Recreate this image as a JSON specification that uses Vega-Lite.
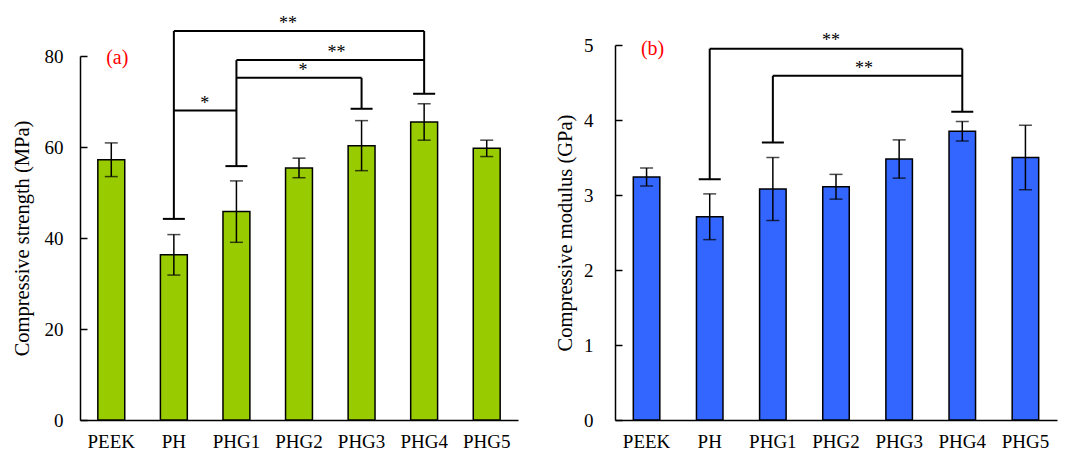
{
  "$schema": "https://vega.github.io/schema/vega-lite/v6.json",
  "padding": {"left": 12, "top": 14, "right": 10, "bottom": 5},
  "bounds": "flush",
  "spacing": 97,
  "datasets": {
    "strength": [
      {"g": "PEEK", "m": 57.2, "sd": 3.7},
      {"g": "PH", "m": 36.3, "sd": 4.45},
      {"g": "PHG1", "m": 45.8, "sd": 6.75},
      {"g": "PHG2", "m": 55.4, "sd": 2.15},
      {"g": "PHG3", "m": 60.3, "sd": 5.5},
      {"g": "PHG4", "m": 65.5, "sd": 4.0},
      {"g": "PHG5", "m": 59.7, "sd": 1.8}
    ],
    "modulus": [
      {"g": "PEEK", "m": 3.24, "sd": 0.12},
      {"g": "PH", "m": 2.71, "sd": 0.305},
      {"g": "PHG1", "m": 3.08, "sd": 0.42},
      {"g": "PHG2", "m": 3.11, "sd": 0.165},
      {"g": "PHG3", "m": 3.48, "sd": 0.255},
      {"g": "PHG4", "m": 3.85, "sd": 0.13},
      {"g": "PHG5", "m": 3.5, "sd": 0.43}
    ],
    "segA": [
      {"a": "PH", "b": "PHG4", "y1": 85.5, "y2": 85.5},
      {"a": "PHG1", "b": "PHG4", "y1": 79.1, "y2": 79.1},
      {"a": "PHG1", "b": "PHG3", "y1": 75.2, "y2": 75.2},
      {"a": "PH", "b": "PHG1", "y1": 68.0, "y2": 68.0},
      {"a": "PH", "b": "PH", "y1": 85.5, "y2": 44.2},
      {"a": "PHG1", "b": "PHG1", "y1": 79.1, "y2": 55.8},
      {"a": "PHG3", "b": "PHG3", "y1": 75.2, "y2": 68.4},
      {"a": "PHG4", "b": "PHG4", "y1": 85.5, "y2": 71.7}
    ],
    "capA": [
      {"g": "PH", "v": 44.2},
      {"g": "PHG1", "v": 55.8},
      {"g": "PHG3", "v": 68.4},
      {"g": "PHG4", "v": 71.7}
    ],
    "txtA": [
      {"id": "A", "g": "PHG2", "v": 85.5, "t": "**"},
      {"id": "B", "g": "PHG3", "v": 79.1, "t": "**"},
      {"id": "C", "g": "PHG2", "v": 75.2, "t": "*"},
      {"id": "D", "g": "PH", "v": 68.0, "t": "*"},
      {"id": "L", "g": "PEEK", "v": 80, "t": "(a)"}
    ],
    "segB": [
      {"a": "PH", "b": "PHG4", "y1": 4.95, "y2": 4.95},
      {"a": "PHG1", "b": "PHG4", "y1": 4.59, "y2": 4.59},
      {"a": "PH", "b": "PH", "y1": 4.95, "y2": 3.21},
      {"a": "PHG1", "b": "PHG1", "y1": 4.59, "y2": 3.7},
      {"a": "PHG4", "b": "PHG4", "y1": 4.95, "y2": 4.11}
    ],
    "capB": [
      {"g": "PH", "v": 3.21},
      {"g": "PHG1", "v": 3.7},
      {"g": "PHG4", "v": 4.11}
    ],
    "txtB": [
      {"id": "A", "g": "PHG2", "v": 4.95, "t": "**"},
      {"id": "B", "g": "PHG2", "v": 4.59, "t": "**"},
      {"id": "L", "g": "PEEK", "v": 5, "t": "(b)"}
    ]
  },
  "hconcat": [
    {
      "width": 438,
      "height": 375,
      "layer": [
        {
          "data": {"name": "strength"},
          "mark": {"type": "bar", "fill": "#99CC00", "stroke": "black", "strokeWidth": 1.5},
          "encoding": {
            "x": {"field": "g", "type": "nominal", "title": null,
                  "scale": {"domain": ["PEEK", "PH", "PHG1", "PHG2", "PHG3", "PHG4", "PHG5"], "paddingInner": 0.57, "paddingOuter": 0.285}},
            "y": {"field": "m", "type": "quantitative", "title": "Compressive strength (MPa)",
                  "scale": {"domain": [0, 80], "range": [375, 11], "nice": false},
                  "axis": {"values": [0, 20, 40, 60, 80], "format": "d", "labelPadding": 24, "titlePadding": 12}}
          }
        },
        {
          "data": {"name": "strength"},
          "mark": {"type": "errorbar", "color": "black", "ticks": {"size": 13, "thickness": 1.5, "color": "black"}, "rule": {"strokeWidth": 1.5, "color": "black"}},
          "encoding": {
            "x": {"field": "g", "type": "nominal", "title": null},
            "y": {"field": "m", "type": "quantitative", "title": "Compressive strength (MPa)"},
            "yError": {"field": "sd"}
          }
        },
        {
          "data": {"name": "segA"},
          "mark": {"type": "rule", "strokeWidth": 2, "color": "black", "clip": false},
          "encoding": {
            "x": {"field": "a", "type": "nominal", "title": null},
            "x2": {"field": "b"},
            "y": {"field": "y1", "type": "quantitative", "title": "Compressive strength (MPa)"},
            "y2": {"field": "y2"}
          }
        },
        {
          "data": {"name": "capA"},
          "mark": {"type": "tick", "size": 22, "thickness": 2, "color": "black", "opacity": 1, "clip": false},
          "encoding": {
            "x": {"field": "g", "type": "nominal", "title": null},
            "y": {"field": "v", "type": "quantitative", "title": "Compressive strength (MPa)"}
          }
        },
        {
          "data": {"name": "txtA"},
          "transform": [{"filter": "datum.id === 'A'"}],
          "mark": {"type": "text", "dx": -11, "dy": -2, "baseline": "alphabetic", "font": "Liberation Serif, Times New Roman, serif", "fontSize": 18, "color": "black"},
          "encoding": {
            "x": {"field": "g", "type": "nominal", "title": null},
            "y": {"field": "v", "type": "quantitative", "title": "Compressive strength (MPa)"},
            "text": {"field": "t"}
          }
        },
        {
          "data": {"name": "txtA"},
          "transform": [{"filter": "datum.id === 'B'"}],
          "mark": {"type": "text", "dx": -25, "dy": -2, "baseline": "alphabetic", "font": "Liberation Serif, Times New Roman, serif", "fontSize": 18, "color": "black"},
          "encoding": {
            "x": {"field": "g", "type": "nominal", "title": null},
            "y": {"field": "v", "type": "quantitative", "title": "Compressive strength (MPa)"},
            "text": {"field": "t"}
          }
        },
        {
          "data": {"name": "txtA"},
          "transform": [{"filter": "datum.id === 'C'"}],
          "mark": {"type": "text", "dx": 4, "dy": -2, "baseline": "alphabetic", "font": "Liberation Serif, Times New Roman, serif", "fontSize": 18, "color": "black"},
          "encoding": {
            "x": {"field": "g", "type": "nominal", "title": null},
            "y": {"field": "v", "type": "quantitative", "title": "Compressive strength (MPa)"},
            "text": {"field": "t"}
          }
        },
        {
          "data": {"name": "txtA"},
          "transform": [{"filter": "datum.id === 'D'"}],
          "mark": {"type": "text", "dx": 31, "dy": -2, "baseline": "alphabetic", "font": "Liberation Serif, Times New Roman, serif", "fontSize": 18, "color": "black"},
          "encoding": {
            "x": {"field": "g", "type": "nominal", "title": null},
            "y": {"field": "v", "type": "quantitative", "title": "Compressive strength (MPa)"},
            "text": {"field": "t"}
          }
        },
        {
          "data": {"name": "txtA"},
          "transform": [{"filter": "datum.id === 'L'"}],
          "mark": {"type": "text", "dx": 6, "dy": 2, "baseline": "middle", "font": "Liberation Serif, Times New Roman, serif", "fontSize": 20, "color": "#FF0000"},
          "encoding": {
            "x": {"field": "g", "type": "nominal", "title": null},
            "y": {"field": "v", "type": "quantitative", "title": "Compressive strength (MPa)"},
            "text": {"field": "t"}
          }
        }
      ]
    },
    {
      "width": 442,
      "height": 375,
      "layer": [
        {
          "data": {"name": "modulus"},
          "mark": {"type": "bar", "fill": "#3366FF", "stroke": "black", "strokeWidth": 1.5},
          "encoding": {
            "x": {"field": "g", "type": "nominal", "title": null,
                  "scale": {"domain": ["PEEK", "PH", "PHG1", "PHG2", "PHG3", "PHG4", "PHG5"], "paddingInner": 0.58, "paddingOuter": 0.29}},
            "y": {"field": "m", "type": "quantitative", "title": "Compressive modulus (GPa)",
                  "scale": {"domain": [0, 5], "nice": false},
                  "axis": {"values": [0, 1, 2, 3, 4, 5], "format": "d", "labelPadding": 29, "titlePadding": 8}}
          }
        },
        {
          "data": {"name": "modulus"},
          "mark": {"type": "errorbar", "color": "black", "ticks": {"size": 13, "thickness": 1.5, "color": "black"}, "rule": {"strokeWidth": 1.5, "color": "black"}},
          "encoding": {
            "x": {"field": "g", "type": "nominal", "title": null},
            "y": {"field": "m", "type": "quantitative", "title": "Compressive modulus (GPa)"},
            "yError": {"field": "sd"}
          }
        },
        {
          "data": {"name": "segB"},
          "mark": {"type": "rule", "strokeWidth": 2, "color": "black", "clip": false},
          "encoding": {
            "x": {"field": "a", "type": "nominal", "title": null},
            "x2": {"field": "b"},
            "y": {"field": "y1", "type": "quantitative", "title": "Compressive modulus (GPa)"},
            "y2": {"field": "y2"}
          }
        },
        {
          "data": {"name": "capB"},
          "mark": {"type": "tick", "size": 22, "thickness": 2, "color": "black", "opacity": 1, "clip": false},
          "encoding": {
            "x": {"field": "g", "type": "nominal", "title": null},
            "y": {"field": "v", "type": "quantitative", "title": "Compressive modulus (GPa)"}
          }
        },
        {
          "data": {"name": "txtB"},
          "transform": [{"filter": "datum.id === 'A'"}],
          "mark": {"type": "text", "dx": -5, "dy": -3, "baseline": "alphabetic", "font": "Liberation Serif, Times New Roman, serif", "fontSize": 18, "color": "black"},
          "encoding": {
            "x": {"field": "g", "type": "nominal", "title": null},
            "y": {"field": "v", "type": "quantitative", "title": "Compressive modulus (GPa)"},
            "text": {"field": "t"}
          }
        },
        {
          "data": {"name": "txtB"},
          "transform": [{"filter": "datum.id === 'B'"}],
          "mark": {"type": "text", "dx": 28, "dy": -2, "baseline": "alphabetic", "font": "Liberation Serif, Times New Roman, serif", "fontSize": 18, "color": "black"},
          "encoding": {
            "x": {"field": "g", "type": "nominal", "title": null},
            "y": {"field": "v", "type": "quantitative", "title": "Compressive modulus (GPa)"},
            "text": {"field": "t"}
          }
        },
        {
          "data": {"name": "txtB"},
          "transform": [{"filter": "datum.id === 'L'"}],
          "mark": {"type": "text", "dx": 6, "dy": 4, "baseline": "middle", "font": "Liberation Serif, Times New Roman, serif", "fontSize": 20, "color": "#FF0000"},
          "encoding": {
            "x": {"field": "g", "type": "nominal", "title": null},
            "y": {"field": "v", "type": "quantitative", "title": "Compressive modulus (GPa)"},
            "text": {"field": "t"}
          }
        }
      ]
    }
  ],
  "config": {
    "view": {"stroke": null},
    "font": "Liberation Serif, Times New Roman, serif",
    "axis": {"grid": false, "domainColor": "black", "domainWidth": 1.5, "labelFont": "Liberation Serif, Times New Roman, serif", "labelColor": "black", "titleFont": "Liberation Serif, Times New Roman, serif", "titleColor": "black", "titleFontWeight": "normal"},
    "axisX": {"ticks": false, "labelFontSize": 19, "labelAngle": 0, "labelPadding": 12},
    "axisY": {"tickSize": -7, "tickColor": "black", "tickWidth": 1.5, "labelFontSize": 19, "titleFontSize": 20.5}
  }
}
